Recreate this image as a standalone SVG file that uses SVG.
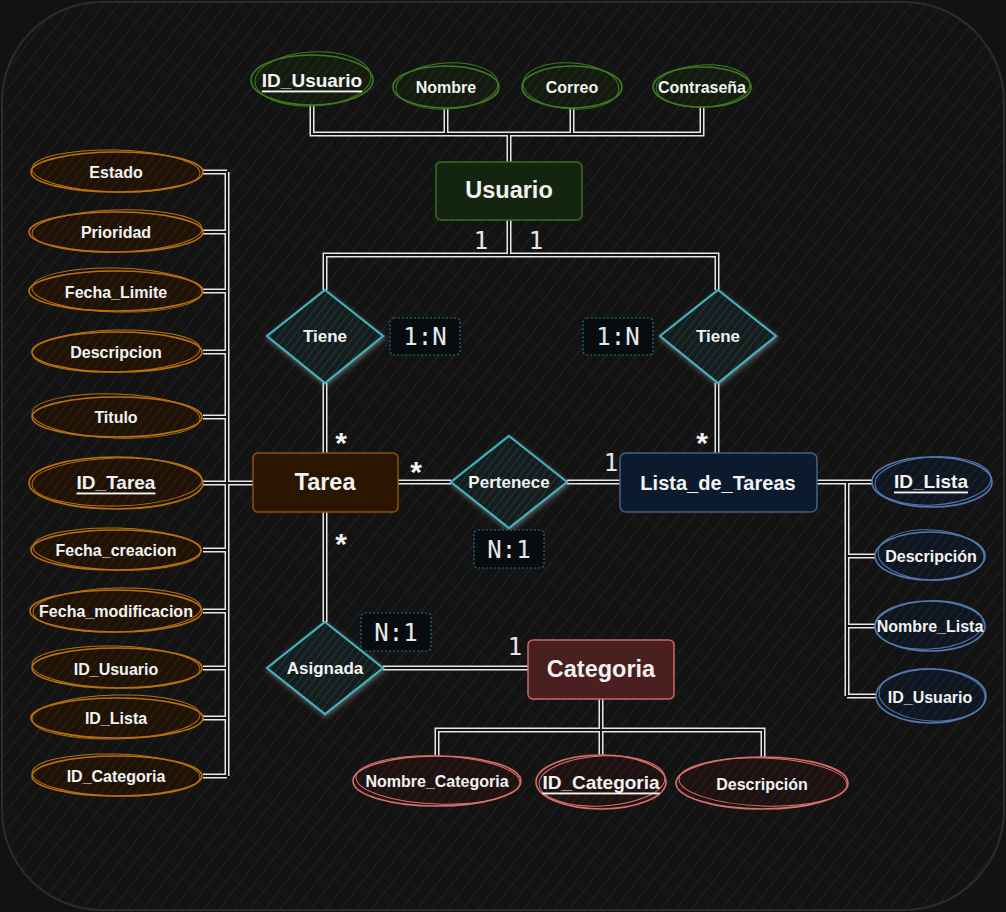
<svg xmlns="http://www.w3.org/2000/svg" xmlns:xlink="http://www.w3.org/1999/xlink" width="1006" height="912" viewBox="0 0 1006 912">
<style>
text{font-family:"Liberation Sans",Arial,sans-serif;fill:#f2f2f2;text-anchor:middle;dominant-baseline:central}
.at{font-size:16px;font-weight:bold}
.pk{font-size:19px;font-weight:bold;text-decoration:underline}
.en{font-size:23.5px;font-weight:bold}
.rl{font-size:17px;font-weight:bold}
.card{font-family:"DejaVu Sans Mono","Liberation Mono",monospace;font-size:24px;fill:#e8e8e8}
.star{font-size:30px;font-weight:bold}
.cw{fill:none;stroke:#e6e6e6;stroke-width:5}
.cd{fill:none;stroke:#141414;stroke-width:2}
.og{stroke:#b8700f;stroke-width:1.6;fill:url(#ho)}
.gr{stroke:#3f7a22;stroke-width:1.6;fill:url(#hg)}
.bl{stroke:#5479b0;stroke-width:1.6;fill:url(#hb)}
.rd{stroke:#d6706a;stroke-width:1.6;fill:url(#hr)}
.sk{fill:none;stroke-width:1}
.dia{fill:url(#hd);stroke:#3fb3bb;stroke-width:2.2;filter:url(#glow)}
.lbl{fill:#080c0f;stroke:#2a7088;stroke-width:1.2;stroke-dasharray:2 2}
</style>
<defs>
<pattern id="bg" width="12" height="12" patternUnits="userSpaceOnUse" patternTransform="rotate(38)">
<rect width="12" height="12" fill="#131313"/><line x1="0" y1="0" x2="0" y2="12" stroke="#262626" stroke-width="1.5"/>
</pattern>
<pattern id="ho" width="7" height="7" patternUnits="userSpaceOnUse" patternTransform="rotate(38)">
<rect width="7" height="7" fill="#1e1206"/><line x1="0" y1="0" x2="0" y2="7" stroke="#3a230b" stroke-width="1.5"/>
</pattern>
<pattern id="hg" width="7" height="7" patternUnits="userSpaceOnUse" patternTransform="rotate(38)">
<rect width="7" height="7" fill="#141a10"/><line x1="0" y1="0" x2="0" y2="7" stroke="#223018" stroke-width="1.5"/>
</pattern>
<pattern id="hb" width="7" height="7" patternUnits="userSpaceOnUse" patternTransform="rotate(38)">
<rect width="7" height="7" fill="#0f1620"/><line x1="0" y1="0" x2="0" y2="7" stroke="#1c2a3c" stroke-width="1.5"/>
</pattern>
<pattern id="hr" width="7" height="7" patternUnits="userSpaceOnUse" patternTransform="rotate(38)">
<rect width="7" height="7" fill="#1d1212"/><line x1="0" y1="0" x2="0" y2="7" stroke="#3a1e1e" stroke-width="1.5"/>
</pattern>
<pattern id="hd" width="6" height="6" patternUnits="userSpaceOnUse" patternTransform="rotate(38)">
<rect width="6" height="6" fill="#141c1d"/><line x1="0" y1="0" x2="0" y2="6" stroke="#1f4446" stroke-width="1.5"/>
</pattern>
<filter id="glow" x="-20%" y="-20%" width="140%" height="140%">
<feDropShadow dx="1" dy="2" stdDeviation="2.5" flood-color="#9a9a9a" flood-opacity="0.55"/>
</filter>
<path id="conn" d="M312,105 V134 H702 V107 M446,107 V134 M572,107 V134 M509,134 V162
M509,220 V255 H325 V290 M509,255 H717 V290
M325,383 V453 M717,383 V453
M398,482 H451 M567,482 H620
M325,512 V622 M383,668 H528
M601,699 V730 H437 V757 M601,730 H763 V758 M601,730 V756
M203,172 H227 M203,232 H227 M203,291 H227 M203,352 H227 M203,417 H227 M203,483 H227 M203,550 H227 M203,611 H227 M203,668 H227 M203,718 H227 M203,776 H227
M227,172 V776 M227,483 H253
M817,482 H873 M847,482 V696 M847,556 H876 M847,626 H876 M847,696 H877"/>
</defs>

<rect width="1006" height="912" fill="#121212"/>
<rect x="2" y="2" width="1002" height="908" rx="100" ry="100" fill="url(#bg)" stroke="#2c2c2c" stroke-width="2"/>

<g id="connectors">
<use xlink:href="#conn" class="cw"/>
<use xlink:href="#conn" class="cd"/>
</g>

<g id="usuario">
<rect x="436" y="162" width="146" height="58" rx="5" fill="#13250f" stroke="#3b6e21" stroke-width="1.5"/>
<text x="509" y="190" class="en">Usuario</text>
</g>
<g id="attr-id-usuario">
<ellipse cx="312" cy="80" rx="61" ry="25" class="gr"/>
<ellipse cx="313" cy="79" rx="58" ry="27" class="sk" stroke="#3f7a22" transform="rotate(-3 313 79)"/>
<text x="312" y="80" class="pk">ID_Usuario</text>
</g>
<g id="attr-nombre">
<ellipse cx="446" cy="87" rx="53" ry="21" class="gr"/>
<ellipse cx="447" cy="86" rx="51" ry="23" class="sk" stroke="#3f7a22" transform="rotate(-3 447 86)"/>
<text x="446" y="87" class="at">Nombre</text>
</g>
<g id="attr-correo">
<ellipse cx="572" cy="87" rx="50" ry="21" class="gr"/>
<ellipse cx="571" cy="86" rx="48" ry="23" class="sk" stroke="#3f7a22" transform="rotate(4 571 86)"/>
<text x="572" y="87" class="at">Correo</text>
</g>
<g id="attr-contrasena">
<ellipse cx="702" cy="87" rx="49" ry="20" class="gr"/>
<ellipse cx="703" cy="86" rx="47" ry="21" class="sk" stroke="#3f7a22" transform="rotate(-3 703 86)"/>
<text x="702" y="87" class="at">Contraseña</text>
</g>

<g id="tiene-1">
<polygon points="325,290 383,336 325,383 267,336" class="dia"/>
<text x="325" y="336" class="rl">Tiene</text>
</g>
<g id="tiene-2">
<polygon points="718,290 776,336 718,383 660,336" class="dia"/>
<text x="718" y="336" class="rl">Tiene</text>
</g>
<g id="pertenece">
<polygon points="509,436 567,482 509,528 451,482" class="dia"/>
<text x="509" y="482" class="rl">Pertenece</text>
</g>
<g id="asignada">
<polygon points="325,622 383,668 325,714 267,668" class="dia"/>
<text x="325" y="668" class="rl">Asignada</text>
</g>

<g id="label-1n-left">
<rect x="390" y="318" width="70" height="37" rx="4" class="lbl"/>
<text x="425" y="337" class="card">1:N</text>
</g>
<g id="label-1n-right">
<rect x="583" y="318" width="70" height="37" rx="4" class="lbl"/>
<text x="618" y="337" class="card">1:N</text>
</g>
<g id="label-n1-pertenece">
<rect x="474" y="530" width="70" height="38" rx="4" class="lbl"/>
<text x="509" y="550" class="card">N:1</text>
</g>
<g id="label-n1-asignada">
<rect x="361" y="613" width="70" height="38" rx="4" class="lbl"/>
<text x="396" y="633" class="card">N:1</text>
</g>

<g id="cardinalities">
<text x="481" y="241" class="card">1</text>
<text x="536" y="241" class="card">1</text>
<text x="611" y="463" class="card">1</text>
<text x="515" y="647" class="card">1</text>
<text x="341" y="442" class="star">*</text>
<text x="702" y="442" class="star">*</text>
<text x="416" y="471" class="star">*</text>
<text x="341" y="543" class="star">*</text>
</g>

<g id="tarea">
<rect x="253" y="453" width="145" height="59" rx="5" fill="#2b1400" stroke="#8d5207" stroke-width="1.5"/>
<text x="325" y="482" class="en">Tarea</text>
</g>
<g id="lista-de-tareas">
<rect x="620" y="453" width="197" height="59" rx="6" fill="#0c1a2e" stroke="#41618b" stroke-width="1.5"/>
<text x="718" y="483" style="font-size:20px;font-weight:bold">Lista_de_Tareas</text>
</g>
<g id="categoria">
<rect x="528" y="640" width="146" height="59" rx="5" fill="#4a1f1f" stroke="#c76b66" stroke-width="1.5"/>
<text x="601" y="669" class="en">Categoria</text>
</g>

<g id="attr-estado"><ellipse cx="117" cy="172" rx="86" ry="20" class="og"/><ellipse cx="116" cy="171" rx="84" ry="21" class="sk" stroke="#b8700f" transform="rotate(1.5 116 171)"/><text x="116" y="172" class="at">Estado</text></g>
<g id="attr-prioridad"><ellipse cx="116" cy="232" rx="87" ry="20" class="og"/><ellipse cx="117" cy="231" rx="85" ry="21" class="sk" stroke="#b8700f" transform="rotate(-1.5 117 231)"/><text x="116" y="232" class="at">Prioridad</text></g>
<g id="attr-fecha-limite"><ellipse cx="116" cy="291" rx="87" ry="20" class="og"/><ellipse cx="117" cy="290" rx="85" ry="22" class="sk" stroke="#b8700f" transform="rotate(1.5 117 290)"/><text x="116" y="292" class="at">Fecha_Limite</text></g>
<g id="attr-descripcion"><ellipse cx="117" cy="352" rx="85" ry="20" class="og"/><ellipse cx="116" cy="351" rx="84" ry="21" class="sk" stroke="#b8700f" transform="rotate(-1.5 116 351)"/><text x="116" y="352" class="at">Descripcion</text></g>
<g id="attr-titulo"><ellipse cx="117" cy="417" rx="85" ry="20" class="og"/><ellipse cx="116" cy="416" rx="84" ry="22" class="sk" stroke="#b8700f" transform="rotate(2 116 416)"/><text x="116" y="417" class="at">Titulo</text></g>
<g id="attr-id-tarea"><ellipse cx="116" cy="483" rx="87" ry="26" class="og"/><ellipse cx="117" cy="482" rx="85" ry="24" class="sk" stroke="#b8700f" transform="rotate(-1.5 117 482)"/><text x="116" y="482" class="pk">ID_Tarea</text></g>
<g id="attr-fecha-creacion"><ellipse cx="116" cy="550" rx="85" ry="20" class="og"/><ellipse cx="117" cy="549" rx="84" ry="21" class="sk" stroke="#b8700f" transform="rotate(1.5 117 549)"/><text x="116" y="550" class="at">Fecha_creacion</text></g>
<g id="attr-fecha-modificacion"><ellipse cx="116" cy="611" rx="86" ry="21" class="og"/><ellipse cx="117" cy="610" rx="84" ry="22" class="sk" stroke="#b8700f" transform="rotate(-1.5 117 610)"/><text x="116" y="611" class="at">Fecha_modificacion</text></g>
<g id="attr-id-usuario-tarea"><ellipse cx="117" cy="668" rx="85" ry="20" class="og"/><ellipse cx="116" cy="667" rx="84" ry="21" class="sk" stroke="#b8700f" transform="rotate(1.5 116 667)"/><text x="116" y="669" class="at">ID_Usuario</text></g>
<g id="attr-id-lista-tarea"><ellipse cx="117" cy="718" rx="86" ry="20" class="og"/><ellipse cx="116" cy="717" rx="84" ry="22" class="sk" stroke="#b8700f" transform="rotate(-1.5 116 717)"/><text x="116" y="718" class="at">ID_Lista</text></g>
<g id="attr-id-categoria-tarea"><ellipse cx="117" cy="776" rx="85" ry="20" class="og"/><ellipse cx="116" cy="775" rx="84" ry="21" class="sk" stroke="#b8700f" transform="rotate(1.5 116 775)"/><text x="116" y="776" class="at">ID_Categoria</text></g>

<g id="attr-id-lista"><ellipse cx="932" cy="482" rx="60" ry="25" class="bl"/><ellipse cx="933" cy="481" rx="58" ry="24" class="sk" stroke="#5479b0" transform="rotate(-3 933 481)"/><text x="931" y="481" class="pk">ID_Lista</text></g>
<g id="attr-descripcion-lista"><ellipse cx="930" cy="556" rx="55" ry="24" class="bl"/><ellipse cx="931" cy="555" rx="53" ry="25" class="sk" stroke="#5479b0" transform="rotate(3 931 555)"/><text x="931" y="556" class="at">Descripción</text></g>
<g id="attr-nombre-lista"><ellipse cx="930" cy="626" rx="55" ry="25" class="bl"/><ellipse cx="929" cy="625" rx="54" ry="24" class="sk" stroke="#5479b0" transform="rotate(-3 929 625)"/><text x="930" y="626" class="at">Nombre_Lista</text></g>
<g id="attr-id-usuario-lista"><ellipse cx="931" cy="696" rx="55" ry="27" class="bl"/><ellipse cx="932" cy="695" rx="53" ry="26" class="sk" stroke="#5479b0" transform="rotate(3 932 695)"/><text x="930" y="697" class="at">ID_Usuario</text></g>

<g id="attr-nombre-categoria"><ellipse cx="437" cy="781" rx="84" ry="25" class="rd"/><ellipse cx="438" cy="780" rx="82" ry="24" class="sk" stroke="#d6706a" transform="rotate(2 438 780)"/><text x="437" y="781" class="at">Nombre_Categoria</text></g>
<g id="attr-id-categoria"><ellipse cx="601" cy="782" rx="65" ry="27" class="rd"/><ellipse cx="602" cy="781" rx="63" ry="25" class="sk" stroke="#d6706a" transform="rotate(-3 602 781)"/><text x="601" y="782" class="pk">ID_Categoria</text></g>
<g id="attr-descripcion-categoria"><ellipse cx="762" cy="783" rx="86" ry="26" class="rd"/><ellipse cx="763" cy="782" rx="84" ry="24" class="sk" stroke="#d6706a" transform="rotate(2 763 782)"/><text x="762" y="784" class="at">Descripción</text></g>
</svg>
